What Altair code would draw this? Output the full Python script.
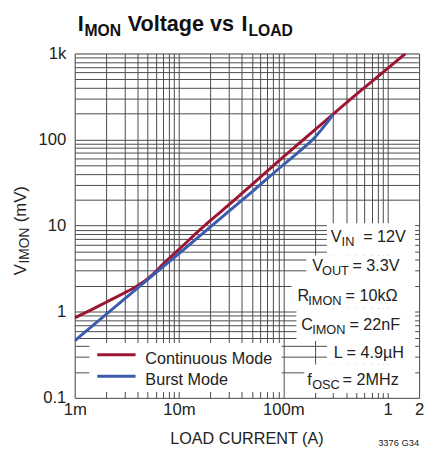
import altair as alt
import pandas as pd

# ---------------- data ----------------
series_names = ["Continuous Mode", "Burst Mode"]
series_colors = ["#9c1633", "#3b5cae"]

cont_x = [0.001, 0.0015, 0.002, 0.0025, 0.003, 0.0035, 0.004, 0.0045, 0.005, 0.0055,
          0.006, 0.007, 0.008, 0.01, 0.015, 0.02, 0.03, 0.05, 0.1, 0.2, 0.3, 0.5, 1.0, 1.48]
cont_y = [0.85, 1.08, 1.29, 1.48, 1.66, 1.83, 2.01, 2.2, 2.42, 2.66,
          2.95, 3.55, 4.15, 5.3, 8.4, 11.5, 17.4, 30, 63, 130, 197, 335, 670, 1000]

burst_x = [0.001, 0.002, 0.005, 0.01, 0.02, 0.05, 0.1, 0.15, 0.2, 0.25, 0.3]
burst_y = [0.46, 0.93, 2.36, 4.75, 9.7, 24.7, 51, 77, 106, 146, 195]

x_label_vals = [0.001, 0.01, 0.1, 1, 2]
x_label_text = ["1m", "10m", "100m", "1", "2"]
y_label_vals = [0.1, 1, 10, 100, 1000]
y_label_text = ["0.1", "1", "10", "100", "1k"]

title_parts = ["I", "MON", "Voltage vs", "I", "LOAD"]
ytitle_parts = ["V", "IMON", "(mV)"]
xtitle = "LOAD CURRENT (A)"

ann_main = ["V", "V", "R", "C", "L = 4.9µH", "f"]
ann_sub = ["IN", "OUT", "IMON", "IMON", "", "OSC"]
ann_rest = ["= 12V", "= 3.3V", "= 10kΩ", "= 22nF", "", "= 2MHz"]
fig_id = "3376 G34"

# ---------------- layout (page pixels) ----------------
OX, OY = 76, 50          # plot origin on page
W, H = 351, 351
FONT = "Liberation Sans, Arial, Helvetica, sans-serif"
TXT = "#222222"

# grid values per decade
x_grid = []
for k in range(-3, 0):
    for m in range(1, 10):
        x_grid.append(round(m * 10.0 ** k, 10))
x_grid += [1, 2]
y_grid = []
for k in range(-1, 3):
    for m in range(1, 10):
        y_grid.append(round(m * 10.0 ** k, 10))
y_grid += [1000]


def label_expr(vals, texts):
    s = ""
    for v, t in zip(vals, texts):
        s += f"datum.value == {v} ? '{t}' : "
    return s + "''"


rows = []
for xv, yv in zip(cont_x, cont_y):
    rows.append({"x": xv, "y": yv, "series": series_names[0]})
for xv, yv in zip(burst_x, burst_y):
    rows.append({"x": xv, "y": yv, "series": series_names[1]})
df_lines = pd.DataFrame(rows)

xscale = alt.Scale(type="log", domain=[0.001, 2], nice=False)
yscale = alt.Scale(type="log", domain=[0.1, 1000], nice=False)
cscale = alt.Scale(domain=series_names, range=series_colors)

lines = alt.Chart(df_lines).mark_line(strokeWidth=3, clip=True, interpolate="monotone").encode(
    x=alt.X("x:Q", scale=xscale,
            axis=alt.Axis(values=x_grid, labelExpr=label_expr(x_label_vals, x_label_text),
                          grid=True, gridColor="#4a4a4a", gridWidth=1, gridOpacity=1,
                          ticks=False, domain=False, labelFontSize=17, labelFont=FONT,
                          labelColor=TXT, labelPadding=4, labelFlush=False,
                          labelOverlap=False, labelBound=False, title=None)),
    y=alt.Y("y:Q", scale=yscale,
            axis=alt.Axis(values=y_grid, labelExpr=label_expr(y_label_vals, y_label_text),
                          grid=True, gridColor="#4a4a4a", gridWidth=1, gridOpacity=1,
                          ticks=False, domain=False, labelFontSize=17, labelFont=FONT,
                          labelColor=TXT, labelPadding=9, labelOverlap=False,
                          labelBound=False, title=None)),
    color=alt.Color("series:N", scale=cscale, legend=None),
    order="x:Q",
)

# white boxes (page coords) : annotations and legend
box_x0 = [333, 312, 297, 302, 333, 310, 91]
box_x1 = [423, 423, 423, 423, 423, 423, 287]
box_y0 = [223, 256, 284, 310, 343, 367, 345]
box_y1 = [256, 284, 310, 343, 367, 396, 395]
df_box = pd.DataFrame({
    "x0": [v - OX for v in box_x0], "x1": [v - OX for v in box_x1],
    "y0": [v - OY for v in box_y0], "y1": [v - OY for v in box_y1],
})
boxes = alt.Chart(df_box).mark_rect(fill="white").encode(
    x=alt.X("x0:Q", scale=None), x2="x1:Q",
    y=alt.Y("y0:Q", scale=None), y2="y1:Q",
)

# annotation texts
ann_x_main = [337, 318, 303, 307, 340, 313]
ann_x_sub = [348, 328, 314, 318, 0, 318]
ann_x_rest = [370, 359, 352, 356, 0, 349]
ann_base = [242, 272, 302, 332, 360, 388]
trows = []
for i in range(len(ann_main)):
    trows.append({"t": ann_main[i], "px": ann_x_main[i] - OX, "py": ann_base[i] - OY, "fs": 16.5})
    if ann_sub[i]:
        trows.append({"t": ann_sub[i], "px": ann_x_sub[i] - OX, "py": ann_base[i] + 4 - OY, "fs": 13})
    if ann_rest[i]:
        trows.append({"t": ann_rest[i], "px": ann_x_rest[i] - OX, "py": ann_base[i] - OY, "fs": 16.5})
# legend labels
leg_y = [357, 379]
for i, n in enumerate(series_names):
    trows.append({"t": n, "px": 148 - OX, "py": leg_y[i] + 9 - OY, "fs": 16.5})
df_text = pd.DataFrame(trows)
texts = alt.Chart(df_text).mark_text(align="left", baseline="alphabetic", font=FONT,
                                     color=TXT).encode(
    x=alt.X("px:Q", scale=None), y=alt.Y("py:Q", scale=None),
    text="t:N", size=alt.Size("fs:Q", scale=None),
)

df_xt = pd.DataFrame({"t": [xtitle], "px": [W / 2], "py": [448 - OY]})
xt = alt.Chart(df_xt).mark_text(align="center", baseline="alphabetic", font=FONT,
                                fontSize=16.5, color=TXT).encode(
    x=alt.X("px:Q", scale=None), y=alt.Y("py:Q", scale=None), text="t:N")

df_id = pd.DataFrame({"t": [fig_id], "px": [427 - OX], "py": [450 - OY]})
idt = alt.Chart(df_id).mark_text(align="right", baseline="alphabetic", font=FONT,
                                 fontSize=9.5, color=TXT).encode(
    x=alt.X("px:Q", scale=None), y=alt.Y("py:Q", scale=None), text="t:N")

# legend lines
df_leg = pd.DataFrame({"series": series_names,
                       "lx0": [99 - OX] * 2, "lx1": [138 - OX] * 2,
                       "ly": [v - OY for v in leg_y]})
leg_lines = alt.Chart(df_leg).mark_rule(strokeWidth=3).encode(
    x=alt.X("lx0:Q", scale=None), x2="lx1:Q", y=alt.Y("ly:Q", scale=None),
    color=alt.Color("series:N", scale=cscale, legend=None),
)

# title pieces
title_x = [79, 86, 130, 246, 253]
title_base = [27, 32, 27, 27, 32]
title_fs = [22, 16, 22, 22, 16]
df_title = pd.DataFrame({"t": title_parts, "px": [v - OX for v in title_x],
                         "py": [v - OY for v in title_base], "fs": title_fs})
title = alt.Chart(df_title).mark_text(align="left", baseline="alphabetic", font=FONT,
                                      fontWeight="bold", color="#111111").encode(
    x=alt.X("px:Q", scale=None), y=alt.Y("py:Q", scale=None),
    text="t:N", size=alt.Size("fs:Q", scale=None),
)

# rotated y title
yt_x = [26, 29, 26]
yt_y = [276, 264, 222]
yt_fs = [17, 14, 17]
df_yt = pd.DataFrame({"t": ytitle_parts, "px": [v - OX for v in yt_x],
                      "py": [v - OY for v in yt_y], "fs": yt_fs})
ytitle = alt.Chart(df_yt).mark_text(align="left", baseline="alphabetic", font=FONT,
                                    angle=270, color=TXT).encode(
    x=alt.X("px:Q", scale=None), y=alt.Y("py:Q", scale=None),
    text="t:N", size=alt.Size("fs:Q", scale=None),
)

chart = alt.layer(lines, boxes, leg_lines, texts, xt, idt, title, ytitle).properties(
    width=W, height=H,
    autosize=alt.AutoSizeParams(type="none"),
    padding={"left": 68, "top": 42, "right": 5, "bottom": 60},
).configure_view(stroke="black", strokeWidth=2).configure(background="white")

chart.save("out.html", embed_options={"renderer": "svg", "actions": False})
